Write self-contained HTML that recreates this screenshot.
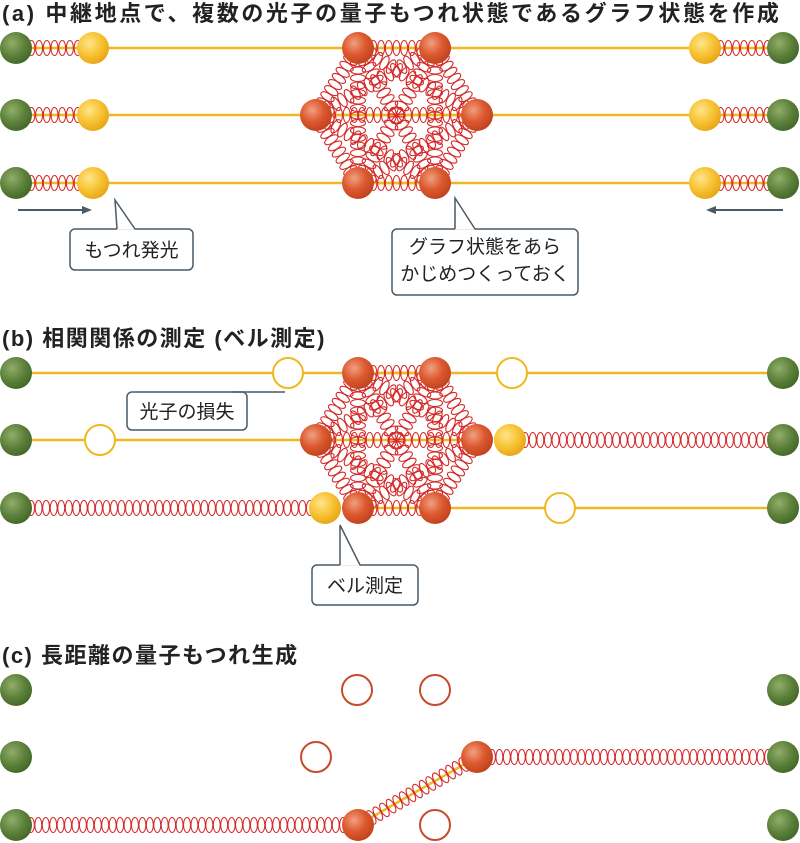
<!DOCTYPE html>
<html><head><meta charset="utf-8"><style>
body{margin:0;background:#fff}
svg{display:block}
text{font-family:"Liberation Sans","Noto Sans CJK JP",sans-serif;fill:#222}
</style></head><body>
<svg id="s" width="800" height="843" viewBox="0 0 800 843" xmlns="http://www.w3.org/2000/svg">
<defs>
<radialGradient id="gG" cx="0.38" cy="0.35" r="0.65"><stop offset="0" stop-color="#8fae6a"/><stop offset="0.6" stop-color="#5e823c"/><stop offset="1" stop-color="#466a2a"/></radialGradient>
<radialGradient id="gY" cx="0.38" cy="0.35" r="0.65"><stop offset="0" stop-color="#ffe58a"/><stop offset="0.6" stop-color="#f7c232"/><stop offset="1" stop-color="#e9a81a"/></radialGradient>
<radialGradient id="gR" cx="0.38" cy="0.35" r="0.65"><stop offset="0" stop-color="#f0a080"/><stop offset="0.55" stop-color="#dd5a30"/><stop offset="1" stop-color="#c2441f"/></radialGradient>
</defs>
<g id="lines"></g><g id="springs"></g><g id="balls"></g><g id="ui"></g>
<text x="2" y="21" font-size="22" font-weight="bold" letter-spacing="2.6">(a) 中継地点で、複数の光子の量子もつれ状態であるグラフ状態を作成</text>
<text x="2" y="346" font-size="22" font-weight="bold" letter-spacing="1.5">(b) 相関関係の測定 (ベル測定)</text>
<text x="2" y="663" font-size="22" font-weight="bold" letter-spacing="1.5">(c) 長距離の量子もつれ生成</text>
</svg>
<script>
const NS="http://www.w3.org/2000/svg";
function el(g,t,a){const e=document.createElementNS(NS,t);for(const k in a)e.setAttribute(k,a[k]);document.getElementById(g).appendChild(e);return e;}
function line(x1,y1,x2,y2){el("lines","line",{x1,y1,x2,y2,stroke:"#f0b820","stroke-width":2.5});}
function spring(x1,y1,x2,y2,core){
 if(core)line(x1,y1,x2,y2);
 const dx=x2-x1,dy=y2-y1,L=Math.hypot(dx,dy),n=Math.max(1,Math.round(L/7.5));
 const ang=Math.atan2(dy,dx)*180/Math.PI;
 for(let i=0;i<=n;i++){const t=i/n;el("springs","ellipse",{cx:x1+dx*t,cy:y1+dy*t,rx:3.5,ry:7.5,fill:"none",stroke:"#d42a2a","stroke-width":1.1,transform:`rotate(${ang} ${x1+dx*t} ${y1+dy*t})`});}
}
function ball(x,y,c){el("balls","circle",{cx:x,cy:y,r:16,fill:`url(#g${c})`});}
function open(x,y,c){el("balls","circle",{cx:x,cy:y,r:15,fill:"#fff",stroke:c,"stroke-width":2});}
function hex(yt,ym,yb){
 const P=[[358,yt],[435,yt],[477,ym],[435,yb],[358,yb],[316,ym]];
 for(let i=0;i<6;i++)for(let j=i+1;j<6;j++){const a=P[i],b=P[j];spring(a[0],a[1],b[0],b[1],a[1]==b[1]);}
 P.forEach(p=>ball(p[0],p[1],"R"));
}
[48,115,183].forEach(y=>{
 spring(16,y,93,y,true);spring(705,y,783,y,true);
 line(93,y,705,y);
 ball(16,y,"G");ball(93,y,"Y");ball(705,y,"Y");ball(783,y,"G");
});
hex(48,115,183);
line(16,373,783,373);
line(16,440,316,440);spring(510,440,783,440,false);
spring(16,508,325,508,false);line(435,508,783,508);
hex(373,440,508);
ball(16,373,"G");ball(783,373,"G");ball(16,440,"G");ball(783,440,"G");ball(16,508,"G");ball(783,508,"G");
open(288,373,"#f0b820");open(512,373,"#f0b820");open(100,440,"#f0b820");open(560,508,"#f0b820");
ball(510,440,"Y");ball(325,508,"Y");
spring(16,825,358,825,false);spring(358,825,477,757,true);spring(477,757,783,757,false);
[690,757,825].forEach(y=>{ball(16,y,"G");ball(783,y,"G");});
open(357,690,"#c84a2a");open(435,690,"#c84a2a");open(316,757,"#c84a2a");open(435,825,"#c84a2a");
ball(358,825,"R");ball(477,757,"R");
function arrow(x1,x2,y){el("ui","line",{x1,y1:y,x2:x2+(x2>x1?-8:8),y2:y,stroke:"#4a5a66","stroke-width":2});const d=x2>x1?-10:10;el("ui","polygon",{points:`${x2},${y} ${x2+d},${y-4} ${x2+d},${y+4}`,fill:"#4a5a66"});}
arrow(18,92,210);arrow(783,706,210);
function callout(x,y,w,h,tx1,tx2,ex,ey,lines){
 el("ui","rect",{x,y,width:w,height:h,rx:5,fill:"#fff",stroke:"#4a5a66","stroke-width":1.5});
 el("ui","polygon",{points:`${tx1},${y+0.8} ${ex},${ey} ${tx2},${y+0.8}`,fill:"#fff",stroke:"none"});
 el("ui","polyline",{points:`${tx1},${y} ${ex},${ey} ${tx2},${y}`,fill:"none",stroke:"#4a5a66","stroke-width":1.5});
 lines.forEach((s,i)=>{const t=el("ui","text",{x:x+w/2,y:y+(lines.length==1?h/2+7:24+i*27),"font-size":19,"text-anchor":"middle"});t.textContent=s;});
}
callout(70,229,123,41,117,135,115,200,["もつれ発光"]);
callout(392,229,186,66,455,475,455,198,["グラフ状態をあら","かじめつくっておく"]);
callout(127,392,120,38,232,247,285,392,["光子の損失"]);
callout(312,565,106,40,340,360,340,525,["ベル測定"]);
</script>
</body></html>
